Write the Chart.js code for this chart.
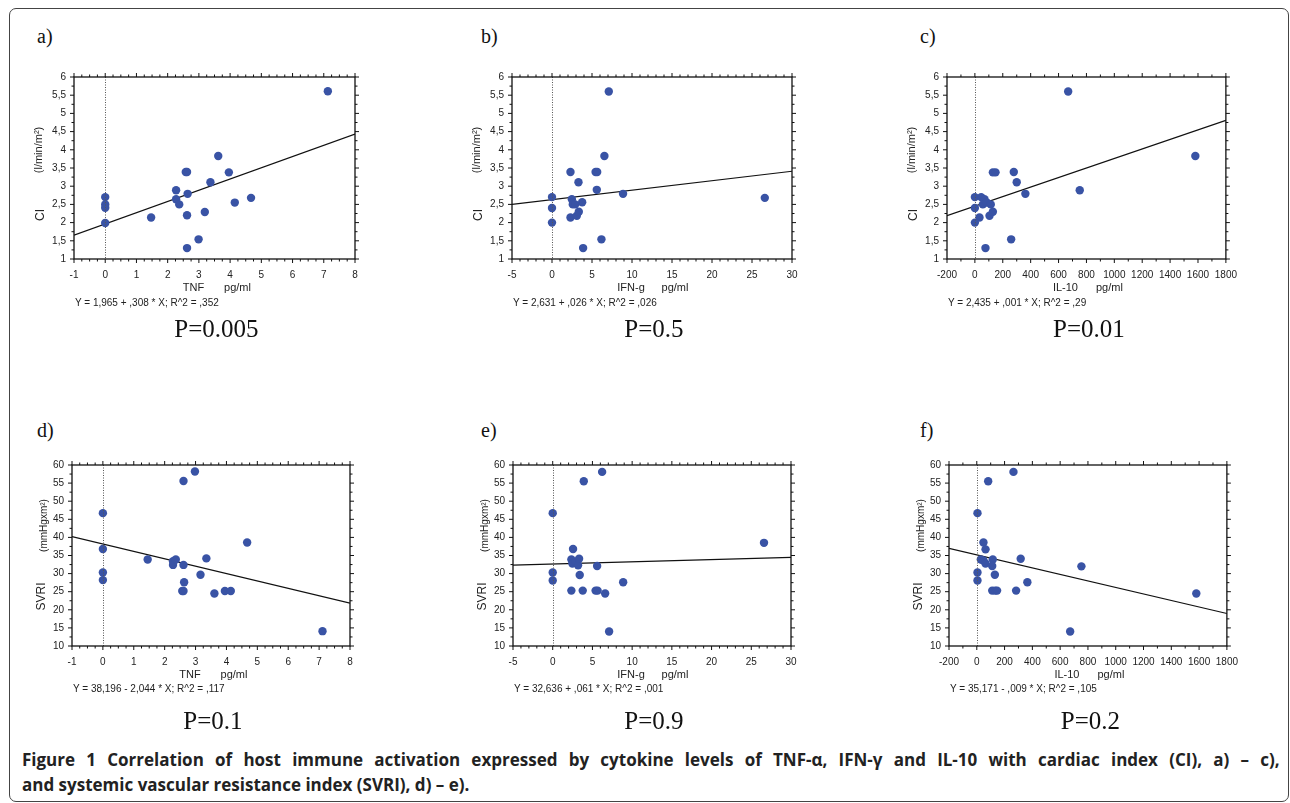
<!DOCTYPE html>
<html>
<head>
<meta charset="utf-8">
<script src="https://cdn.jsdelivr.net/npm/chart.js@4.4.0/dist/chart.umd.min.js"></script>
<style>
  body { margin: 0; background: #fff; width: 1290px; height: 803px; overflow: hidden; position: relative; font-family: "Liberation Sans", Arial, sans-serif; }
  .frame { position: absolute; left: 9px; top: 8px; width: 1280px; height: 794px; border: 1px solid #444; border-radius: 7px; box-sizing: border-box; }
  canvas { position: absolute; }
  .lbl { position: absolute; font-family: "Liberation Serif", "Times New Roman", serif; font-size: 20px; line-height: 20px; color: #111; }
  .pval { position: absolute; font-family: "Liberation Serif", "Times New Roman", serif; font-size: 25px; line-height: 25px; color: #111; transform: translateX(-50%); white-space: nowrap; }
  .eq { position: absolute; font-size: 10px; line-height: 10px; color: #222; white-space: nowrap; }
  .cap { position: absolute; left: 22px; font-family: "Open Sans", "Noto Sans", sans-serif; font-weight: 700; font-size: 17px; line-height: 20px; color: #222; white-space: nowrap; }
</style>
</head>
<body>
<div class="frame"></div>

<script>
// values
const tnfCiX = [0, 0, 0, 0, 1.47, 2.27, 2.27, 2.37, 2.58, 2.62, 2.64, 2.62, 2.62, 2.99, 3.19, 3.37, 3.62, 3.96, 4.15, 4.67, 7.13];
const tnfCiY = [2.70, 2.50, 2.41, 1.99, 2.14, 2.89, 2.64, 2.50, 3.39, 3.39, 2.79, 2.20, 1.30, 1.54, 2.29, 3.11, 3.83, 3.38, 2.55, 2.68, 5.61];

const ifnCiX = [0, 0, 0, 2.31, 2.48, 2.6, 2.9, 2.31, 3.1, 3.35, 3.77, 3.31, 3.89, 5.45, 5.65, 5.6, 6.55, 6.18, 8.88, 26.6, 7.1];
const ifnCiY = [2.7, 2.4, 2.0, 3.39, 2.64, 2.5, 2.5, 2.14, 2.19, 2.30, 2.56, 3.11, 1.30, 3.39, 3.39, 2.9, 3.83, 1.54, 2.79, 2.68, 5.6];

const il10CiX = [0, 0, 0, 33, 45, 69, 57, 86, 76, 105, 129, 114, 129, 148, 279, 300, 362, 260, 752, 1581, 669];
const il10CiY = [2.7, 2.4, 2.0, 2.14, 2.7, 2.64, 2.5, 2.55, 1.3, 2.19, 2.3, 2.5, 3.38, 3.38, 3.39, 3.11, 2.79, 1.54, 2.89, 3.83, 5.6];

const tnfSvriX = [0, 0, 0, 0, 1.45, 2.27, 2.27, 2.36, 2.61, 2.98, 2.61, 2.63, 2.57, 2.61, 3.16, 3.35, 3.61, 3.95, 4.14, 4.67, 7.11];
const tnfSvriY = [46.7, 36.8, 30.3, 28.2, 33.9, 33.4, 32.4, 33.9, 55.6, 58.2, 32.4, 27.6, 25.2, 25.2, 29.7, 34.2, 24.5, 25.2, 25.2, 38.6, 14.1];

const ifnSvriX = [0, 0, 0, 3.91, 6.22, 2.56, 2.35, 2.48, 2.9, 3.19, 3.32, 5.59, 3.4, 2.35, 3.78, 5.4, 5.65, 6.6, 7.1, 8.87, 26.6];
const ifnSvriY = [46.7, 30.3, 28.1, 55.5, 58.1, 36.8, 33.9, 32.8, 33.2, 32.3, 34.1, 32.1, 29.6, 25.3, 25.3, 25.3, 25.3, 24.5, 14.0, 27.6, 38.5];

const il10SvriX = [5, 5, 5, 82, 264, 48, 63, 29, 48, 63, 115, 111, 130, 111, 132, 146, 283, 316, 364, 753, 672, 1580];
const il10SvriY = [46.7, 30.3, 28.1, 55.5, 58.1, 38.6, 36.7, 33.9, 33.6, 32.8, 33.9, 32.1, 29.7, 25.3, 25.3, 25.3, 25.3, 34.1, 27.6, 32.0, 14.0, 24.5];

// fitted lines as drawn
const fitIntercept = [1.965, 2.631, 2.45, 38.196, 32.636, 35.171];
const fitSlope = [0.308, 0.026, 0.00131, -2.044, 0.061, -0.009];

const equations = [
  'Y = 1,965 + ,308 * X; R^2 = ,352',
  'Y = 2,631 + ,026 * X; R^2 = ,026',
  'Y = 2,435 + ,001 * X; R^2 = ,29',
  'Y = 38,196 - 2,044 * X; R^2 = ,117',
  'Y = 32,636 + ,061 * X; R^2 = ,001',
  'Y = 35,171 - ,009 * X; R^2 = ,105',
];
const pValues = ['P=0.005', 'P=0.5', 'P=0.01', 'P=0.1', 'P=0.9', 'P=0.2'];
const panelLabels = ['a)', 'b)', 'c)', 'd)', 'e)', 'f)'];
const xNames = ['TNF', 'IFN-g', 'IL-10', 'TNF', 'IFN-g', 'IL-10'];
const yNames = ['CI', 'CI', 'CI', 'SVRI', 'SVRI', 'SVRI'];
const yUnits = ['(l/min/m²)', '(l/min/m²)', '(l/min/m²)', '(mmHgxm²)', '(mmHgxm²)', '(mmHgxm²)'];

const xRanges = [[-1, 8, 1], [-5, 30, 5], [-200, 1800, 200]];
const yRanges = [[1, 6, 0.5], [10, 60, 5]];
const xMinor = [4, 5, 2];

const DOT = '#3953a5';
const FONT = '"Liberation Sans", Arial, sans-serif';

// plot box of each panel in page pixels: left, top, right, bottom
const boxes = [
  [74, 73, 355, 259], [512, 73, 792, 259], [947, 73, 1227, 259],
  [72, 461, 350, 646], [513, 461, 791, 646], [949, 461, 1228, 646],
];

const framePlugin = {
  id: 'frameTicks',
  afterDraw(chart, args, opts) {
    const { ctx, chartArea: a, scales: { x, y } } = chart;
    ctx.save();
    // dotted zero line
    ctx.strokeStyle = '#555';
    ctx.lineWidth = 1;
    ctx.setLineDash([1, 1.5]);
    const zx = Math.round(x.getPixelForValue(0)) + 0.5;
    ctx.beginPath();
    ctx.moveTo(zx, a.top);
    ctx.lineTo(zx, a.bottom);
    ctx.stroke();
    ctx.setLineDash([]);

    // box
    ctx.strokeStyle = '#111';
    ctx.lineWidth = 1.3;
    ctx.strokeRect(a.left, a.top, a.right - a.left, a.bottom - a.top);

    const mark = (scale, n, cb) => {
      const t = scale.ticks.map((k) => k.value);
      for (let i = 0; i < t.length; i++) {
        cb(scale.getPixelForValue(t[i]), 4);
        if (i < t.length - 1) {
          for (let j = 1; j < n; j++) {
            cb(scale.getPixelForValue(t[i] + ((t[i + 1] - t[i]) * j) / n), 2.5);
          }
        }
      }
    };
    ctx.lineWidth = 1;
    ctx.beginPath();
    mark(x, opts.xMinor, (px, len) => {
      ctx.moveTo(px, a.bottom); ctx.lineTo(px, a.bottom + len);
      ctx.moveTo(px, a.top); ctx.lineTo(px, a.top - len);
    });
    mark(y, opts.yMinor, (py, len) => {
      ctx.moveTo(a.left, py); ctx.lineTo(a.left - len, py);
      ctx.moveTo(a.right, py); ctx.lineTo(a.right + len, py);
    });
    ctx.stroke();

    // axis titles
    ctx.fillStyle = '#222';
    ctx.font = '11px ' + FONT;
    ctx.textAlign = 'center';
    ctx.textBaseline = 'middle';
    const cx = (a.left + a.right) / 2;
    const cy = (a.top + a.bottom) / 2;
    ctx.fillText(opts.xName, cx - 21, a.bottom + 29);
    ctx.fillText('pg/ml', cx + 23, a.bottom + 29);
    ctx.save();
    ctx.translate(a.left - opts.nameDx, cy + opts.nameDy);
    ctx.rotate(-Math.PI / 2);
    ctx.font = '12px ' + FONT;
    ctx.fillText(opts.yName, 0, 0);
    ctx.restore();
    ctx.save();
    ctx.translate(a.left - opts.unitDx, cy + opts.unitDy);
    ctx.rotate(-Math.PI / 2);
    ctx.font = opts.unitFont;
    ctx.fillText(opts.yUnit, 0, 0);
    ctx.restore();
    ctx.restore();
  },
};

const comma = (v) => String(v).replace('.', ',');

const datasets = [
  [tnfCiX, tnfCiY], [ifnCiX, ifnCiY], [il10CiX, il10CiY],
  [tnfSvriX, tnfSvriY], [ifnSvriX, ifnSvriY], [il10SvriX, il10SvriY],
];

const addDiv = (cls, text, left, top) => {
  const d = document.createElement('div');
  d.className = cls;
  d.textContent = text;
  d.style.left = left + 'px';
  d.style.top = top + 'px';
  document.body.appendChild(d);
  return d;
};

datasets.forEach(([xs, ys], i) => {
  const [l, t, r, b] = boxes[i];
  const xr = xRanges[i % 3];
  const yr = yRanges[Math.floor(i / 3)];
  const svri = i >= 3;
  const canvas = document.createElement('canvas');
  canvas.width = r - l + 80;
  canvas.height = b - t + 50;
  canvas.style.left = l - 60 + 'px';
  canvas.style.top = t - 10 + 'px';
  document.body.appendChild(canvas);

  new Chart(canvas, {
    data: {
      datasets: [
        {
          type: 'scatter',
          data: xs.map((v, k) => ({ x: v, y: ys[k] })),
          backgroundColor: DOT,
          borderWidth: 0,
          pointRadius: 4.2,
          order: 0,
        },
        {
          type: 'line',
          data: [xr[0], xr[1]].map((v) => ({ x: v, y: fitIntercept[i] + fitSlope[i] * v })),
          borderColor: '#111',
          borderWidth: 1.2,
          pointRadius: 0,
          order: 1,
        },
      ],
    },
    options: {
      responsive: false,
      animation: false,
      events: [],
      layout: { padding: { left: 0, top: 10, right: 20, bottom: 0 } },
      scales: {
        x: {
          type: 'linear',
          min: xr[0],
          max: xr[1],
          afterFit: (s) => { s.height = 40; },
          ticks: { stepSize: xr[2], autoSkip: false, maxRotation: 0, padding: 10, color: '#222', callback: (v) => String(v), font: { size: 10, family: FONT } },
          grid: { display: false, drawTicks: false },
          border: { display: false },
        },
        y: {
          type: 'linear',
          min: yr[0],
          max: yr[1],
          afterFit: (s) => { s.width = 60; },
          ticks: { stepSize: yr[2], padding: 8, color: '#222', callback: comma, font: { size: 10, family: FONT } },
          grid: { display: false, drawTicks: false },
          border: { display: false },
        },
      },
      plugins: {
        legend: { display: false },
        tooltip: { enabled: false },
        frameTicks: {
          xMinor: xMinor[i % 3],
          yMinor: 2,
          xName: xNames[i],
          yName: yNames[i],
          yUnit: yUnits[i],
          nameDx: svri ? 30 : 33,
          nameDy: svri ? 41 : 47,
          unitDx: svri ? 28 : 35,
          unitDy: svri ? -30 : -18,
          unitFont: (svri ? '10px ' : '11px ') + FONT,
        },
      },
    },
    plugins: [framePlugin],
  });

  const lblX = [37, 481, 920][i % 3];
  const lblY = svri ? 420 : 26;
  addDiv('lbl', panelLabels[i], lblX, lblY);
  addDiv('eq', equations[i], l + 1, b + (svri ? 38 : 39));
  addDiv('pval', pValues[i], (l + r) / 2 + 2, svri ? 708 : 316);
});

// first caption line is justified to the full width
const cap1 = addDiv('cap', 'Figure 1 Correlation of host immune activation expressed by cytokine levels of TNF-α, IFN-γ and IL-10 with cardiac index (CI), a) – c),', 22, 750);
const gaps = cap1.textContent.split(' ').length - 1;
cap1.style.wordSpacing = (1258 - cap1.offsetWidth) / gaps + 'px';
addDiv('cap', 'and systemic vascular resistance index (SVRI), d) – e).', 22, 775);
</script>
</body>
</html>
